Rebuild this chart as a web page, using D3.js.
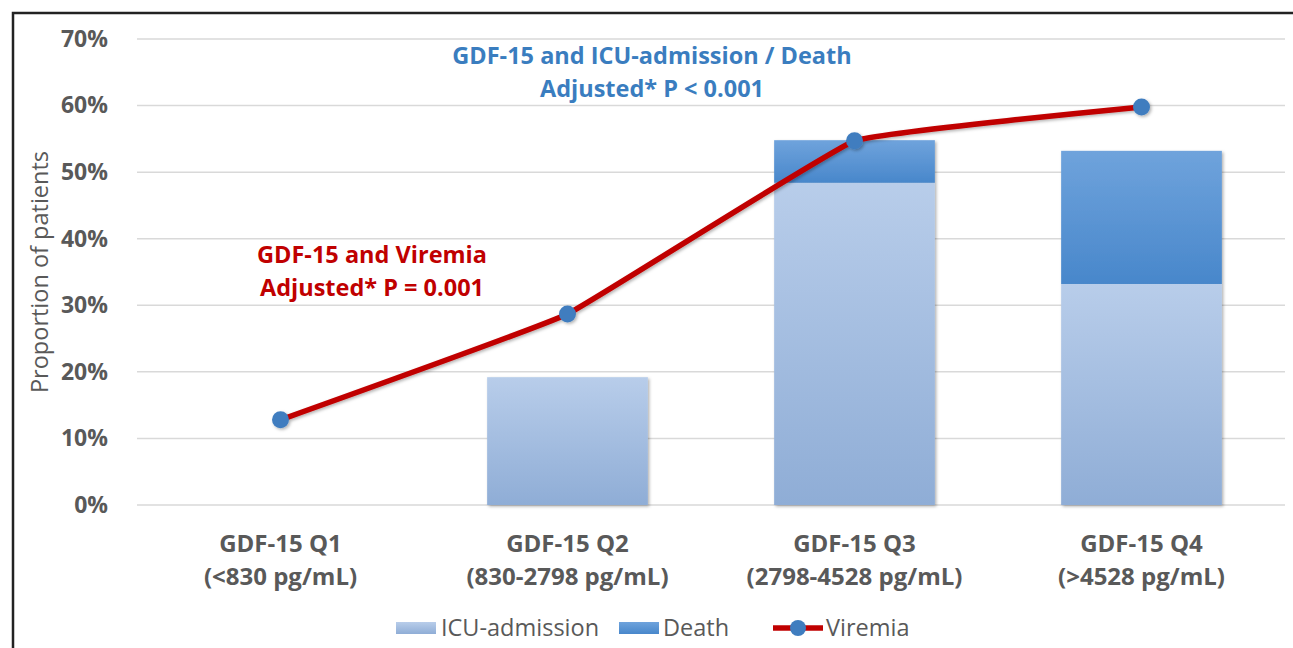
<!DOCTYPE html>
<html>
<head>
<meta charset="utf-8">
<script src="https://cdn.jsdelivr.net/npm/d3@7"></script>
<style>
  body { margin: 0; background: #fff; }
  svg { display: block; font-family: "Open Sans", sans-serif; }
</style>
</head>
<body>
<svg id="chart" width="1293" height="648"></svg>
<script>
"use strict";

let categories = ["Q1", "Q2", "Q3", "Q4"];
let catLine1 = ["GDF-15 Q1", "GDF-15 Q2", "GDF-15 Q3", "GDF-15 Q4"];
let catLine2 = ["(<830 pg/mL)", "(830-2798 pg/mL)", "(2798-4528 pg/mL)", "(>4528 pg/mL)"];
let icuAdmission = [0, 19.2, 48.4, 33.2];
let death = [0, 0, 6.4, 20.0];
let viremia = [12.8, 28.7, 54.7, 59.8];
let yTicks = [0, 10, 20, 30, 40, 50, 60, 70];

let svg = d3.select("#chart");
let margin = { left: 137, right: 8, top: 39, bottom: 143 };
let W = 1293, H = 648;

// frame
svg.append("path")
  .attr("d", `M13,${H} V13 H${W}`)
  .attr("fill", "none")
  .attr("stroke", "#222")
  .attr("stroke-width", 2.5);

let defs = svg.append("defs");
let g1 = defs.append("linearGradient").attr("id", "gIcu").attr("x1", 0).attr("x2", 0).attr("y1", 0).attr("y2", 1);
g1.append("stop").attr("offset", "0%").attr("stop-color", "#b8cdea");
g1.append("stop").attr("offset", "100%").attr("stop-color", "#8fadd6");
let g2 = defs.append("linearGradient").attr("id", "gDeath").attr("x1", 0).attr("x2", 0).attr("y1", 0).attr("y2", 1);
g2.append("stop").attr("offset", "0%").attr("stop-color", "#6fa3dc");
g2.append("stop").attr("offset", "100%").attr("stop-color", "#4887cb");
let sh = defs.append("filter").attr("id", "shadow").attr("x", "-20%").attr("y", "-20%").attr("width", "140%").attr("height", "140%");
sh.append("feDropShadow").attr("dx", 1.5).attr("dy", 1.5).attr("stdDeviation", 1.5).attr("flood-color", "#000").attr("flood-opacity", 0.3);

let x = d3.scaleBand().domain(categories).range([margin.left, W - margin.right]).paddingInner(0.44).paddingOuter(0.22);
let xc = d => x(d) + x.bandwidth() / 2;
let y = d3.scaleLinear().domain([0, 70]).range([H - margin.bottom, margin.top]);

// gridlines
svg.append("g")
  .selectAll("line").data(yTicks).enter().append("line")
  .attr("x1", margin.left).attr("x2", W - margin.right)
  .attr("y1", d => y(d)).attr("y2", d => y(d))
  .attr("stroke", "#d9d9d9").attr("stroke-width", 1.5);

// y axis
let yAxis = svg.append("g")
  .attr("transform", `translate(${margin.left - 26},0)`)
  .call(d3.axisLeft(y).tickValues(yTicks).tickFormat(d => d + "%").tickSize(0));
yAxis.select(".domain").remove();
yAxis.selectAll("text")
  .attr("fill", "#595959").attr("font-size", 23).attr("font-weight", 700)
  .attr("font-family", "Open Sans");

svg.append("text")
  .attr("transform", `translate(48,${(y(0) + y(70)) / 2 + 0}) rotate(-90)`)
  .attr("text-anchor", "middle")
  .attr("fill", "#595959").attr("font-size", 23.5)
  .text("Proportion of patients");

// bars
let bars = svg.append("g").attr("filter", "url(#shadow)");
bars.selectAll("rect.icu").data(categories).enter().append("rect")
  .attr("class", "icu")
  .attr("x", d => x(d)).attr("width", x.bandwidth())
  .attr("y", (d, i) => y(icuAdmission[i]))
  .attr("height", (d, i) => y(0) - y(icuAdmission[i]))
  .attr("fill", "url(#gIcu)");
bars.selectAll("rect.death").data(categories).enter().append("rect")
  .attr("class", "death")
  .attr("x", d => x(d)).attr("width", x.bandwidth())
  .attr("y", (d, i) => y(icuAdmission[i] + death[i]))
  .attr("height", (d, i) => y(0) - y(death[i]))
  .attr("fill", "url(#gDeath)");

// x labels
let xl = svg.append("g");
xl.selectAll("text.l1").data(categories).enter().append("text")
  .attr("x", d => xc(d)).attr("y", 552)
  .attr("text-anchor", "middle").attr("fill", "#595959")
  .attr("font-size", 24).attr("font-weight", 700)
  .text((d, i) => catLine1[i]);
xl.selectAll("text.l2").data(categories).enter().append("text")
  .attr("x", d => xc(d)).attr("y", 585)
  .attr("text-anchor", "middle").attr("fill", "#595959")
  .attr("font-size", 24).attr("font-weight", 700)
  .text((d, i) => catLine2[i]);

// viremia line
let line = d3.line()
  .x((d, i) => xc(categories[i]))
  .y(d => y(d))
  .curve(d3.curveCardinal.tension(0.75));
let lg = svg.append("g").attr("filter", "url(#shadow)");
lg.append("path")
  .datum(viremia)
  .attr("d", line)
  .attr("fill", "none").attr("stroke", "#c00000").attr("stroke-width", 5.5)
  .attr("stroke-linejoin", "round");
lg.selectAll("circle").data(viremia).enter().append("circle")
  .attr("cx", (d, i) => xc(categories[i])).attr("cy", d => y(d))
  .attr("r", 8.5).attr("fill", "#3f7dbf");

// annotations
let blue = svg.append("g").attr("fill", "#3a7dbf").attr("font-weight", 700).attr("font-size", 23.5).attr("text-anchor", "middle");
blue.append("text").attr("x", 652).attr("y", 64).text("GDF-15 and ICU-admission / Death");
blue.append("text").attr("x", 652).attr("y", 97).text("Adjusted* P < 0.001");
let red = svg.append("g").attr("fill", "#c00000").attr("font-weight", 700).attr("font-size", 23.5).attr("text-anchor", "middle");
red.append("text").attr("x", 372).attr("y", 263).text("GDF-15 and Viremia");
red.append("text").attr("x", 372).attr("y", 296).text("Adjusted* P = 0.001");

// legend
let leg = svg.append("g").attr("font-size", 23.5).attr("fill", "#595959");
let ly = 628;
leg.append("rect").attr("x", 396).attr("y", ly - 6).attr("width", 40).attr("height", 12).attr("fill", "url(#gIcu)");
leg.append("text").attr("x", 441).attr("y", ly + 8).text("ICU-admission");
leg.append("rect").attr("x", 619).attr("y", ly - 6).attr("width", 40).attr("height", 12).attr("fill", "url(#gDeath)");
leg.append("text").attr("x", 663).attr("y", ly + 8).text("Death");
leg.append("line").attr("x1", 773).attr("x2", 823).attr("y1", ly).attr("y2", ly).attr("stroke", "#c00000").attr("stroke-width", 5.5);
leg.append("circle").attr("cx", 798).attr("cy", ly).attr("r", 8).attr("fill", "#3f7dbf");
leg.append("text").attr("x", 826).attr("y", ly + 8).text("Viremia");
</script>
</body>
</html>
